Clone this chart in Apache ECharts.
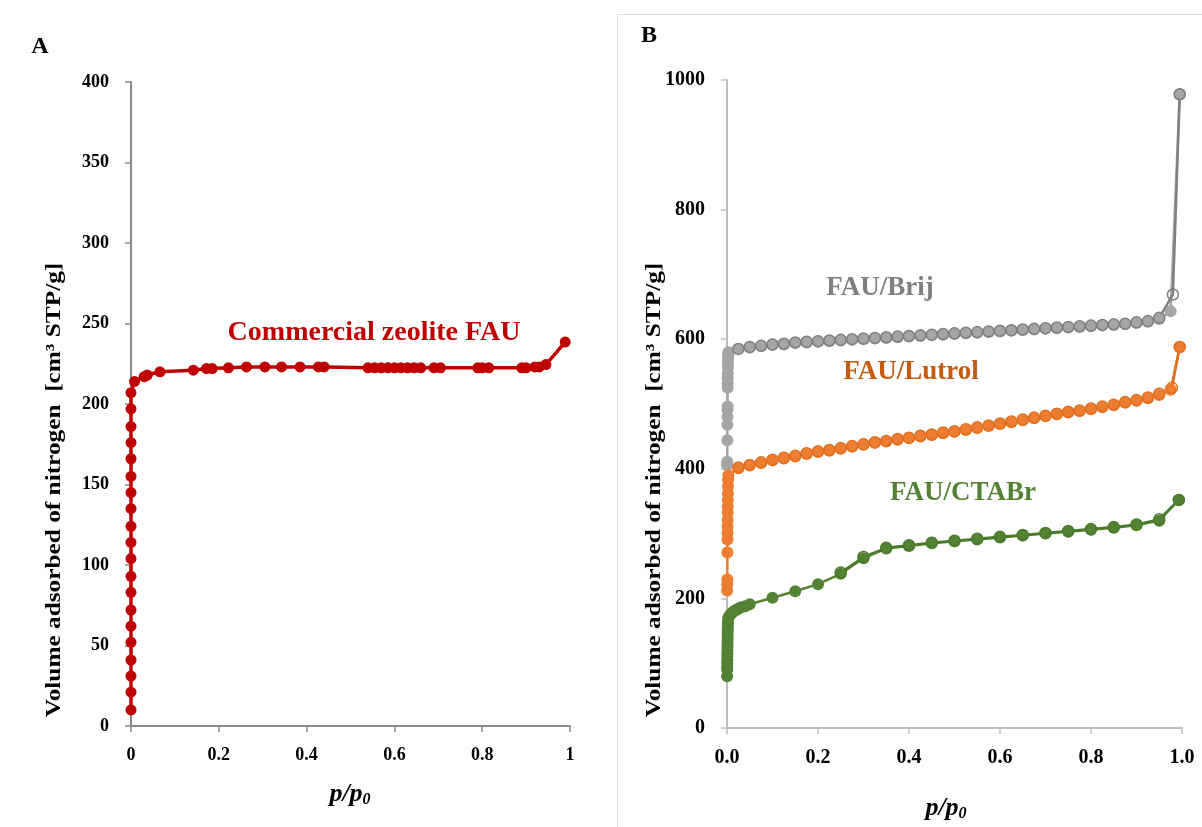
<!DOCTYPE html>
<html>
<head>
<meta charset="utf-8">
<script src="https://cdn.jsdelivr.net/npm/echarts@6/dist/echarts.min.js"></script>
<style>html,body{margin:0;padding:0;background:#fff;}#main{width:1202px;height:827px;}</style>
</head>
<body>
<div id="main"></div>
<script>
// ---------- Panel A: commercial zeolite FAU ----------
const faaP = [0,0,0,0,0,0,0,0,0,0,0,0,0,0,0,0,0,0,0,0,
  0.008,0.03,0.037,0.066,0.142,0.172,0.185,0.222,0.263,0.305,0.343,0.385,0.427,0.44,
  0.54,0.555,0.57,0.585,0.6,0.615,0.63,0.645,0.66,0.69,0.705,0.79,0.8,0.815,
  0.89,0.9,0.92,0.93,0.945,0.989];
const faaV = [10,21,31,41,52,62,72,83,93,104,114,124,135,145,155,166,176,186,197,207,
  214,217,218,220,221,222,222,222.5,223,223,223,223,223,223,
  222.5,222.5,222.5,222.5,222.5,222.5,222.5,222.5,222.5,222.5,222.5,222.5,222.5,222.5,
  222.5,222.5,223,223,224.5,238.5];

// ---------- Panel B ----------
const brijAdsP = [0.0003,0.0005,0.0007,0.0009,0.001,0.0011,0.0012,0.0014,0.0015,0.0016,0.0018,0.002,0.0022,0.0024,0.0026,0.003,
  0.025,0.05,0.075,0.1,0.125,0.15,0.175,0.2,0.225,0.25,0.275,0.3,0.325,0.35,0.375,0.4,0.425,0.45,0.475,0.5,
  0.525,0.55,0.575,0.6,0.625,0.65,0.675,0.7,0.725,0.75,0.775,0.8,0.825,0.85,0.875,0.9,0.925,0.95,0.975,0.995];
const brijAdsV = [406,411,444,468,480,491,496,525,532,540,548,557,565,571,576,580,
  585,587,589,591,592,594,595,596,597,598,599,600,601,602,603,604,605,606,607,608,
  609,610,611,612,613,614,615,616,617,618,619,620,621,622,623,625,627,631,643,978];
const brijDesP = [0.995,0.98,0.95,0.925,0.9,0.875,0.85,0.825,0.8,0.775,0.75,0.725,0.7,0.675,0.65,0.625,0.6,0.575,0.55,0.525,0.5,
  0.475,0.45,0.425,0.4,0.375,0.35,0.325,0.3,0.275,0.25,0.225,0.2,0.175,0.15,0.125,0.1,0.075,0.05,0.025];
const brijDesV = [978,669,633,628,626,624,623,622,621,620,619,618,617,616,615,614,613,612,611,610,609,
  608,607,606,605,604,603,602,601,600,599,598,597,596,595,593,592,590,588,585];

const lutAdsP = [0.0003,0.0005,0.0007,0.0009,0.001,0.0011,0.0012,0.0014,0.0015,0.0016,0.0018,0.002,0.0022,0.0024,0.003,
  0.025,0.05,0.075,0.1,0.125,0.15,0.175,0.2,0.225,0.25,0.275,0.3,0.325,0.35,0.375,0.4,0.425,0.45,0.475,0.5,
  0.525,0.55,0.575,0.6,0.625,0.65,0.675,0.7,0.725,0.75,0.775,0.8,0.825,0.85,0.875,0.9,0.925,0.95,0.975,0.995];
const lutAdsV = [212,222,229,271,291,301,311,321,332,342,352,362,373,383,390,
  401,405,409,413,416,419,423,426,428,431,434,437,440,442,445,447,450,452,455,457,
  460,463,466,469,472,475,478,481,484,487,489,492,495,498,502,505,509,514,522,588];
const lutDesP = [0.995,0.978,0.95,0.925,0.9,0.875,0.85,0.825,0.8,0.775,0.75,0.725,0.7,0.675,0.65,0.625,0.6,0.575,0.55,0.525,0.5,
  0.475,0.45,0.425,0.4,0.375,0.35,0.325,0.3,0.275,0.25,0.225,0.2,0.175,0.15,0.125,0.1,0.075,0.05,0.025];
const lutDesV = [588,525,516,510,506,503,499,496,493,490,488,485,482,479,476,473,470,467,464,461,458,
  456,453,451,448,446,443,441,438,435,432,429,427,424,420,417,414,410,406,402];

const ctaAdsP = [0.0003,0.0004,0.0005,0.0006,0.0007,0.0008,0.0009,0.001,0.0011,0.0012,0.0013,0.0014,0.0015,0.0016,0.0018,0.002,0.0022,
  0.003,0.006,0.01,0.015,0.02,0.025,0.03,0.04,0.05,0.1,0.15,0.2,0.25,0.3,0.35,0.4,0.45,0.5,0.55,0.6,0.65,0.7,0.75,0.8,0.85,0.9,0.95,0.993];
const ctaAdsV = [80,90,95,100,105,110,115,120,126,131,136,141,146,151,156,161,166,
  170,174,177,180,182,184,186,188,191,201,211,222,238,262,277,281,285,288,291,294,297,300,303,306,309,313,320,352];
const ctaDesP = [0.993,0.95,0.9,0.85,0.8,0.75,0.7,0.65,0.6,0.55,0.5,0.45,0.4,0.35,0.3,0.25];
const ctaDesV = [352,322,314,310,307,304,301,298,295,292,289,286,282,278,264,240];

const xTicks = [0,0.2,0.4,0.6,0.8,1];
const labelsB = ['FAU/Brij','FAU/Lutrol','FAU/CTABr'];

const FONT = 'Liberation Serif';
const zip = (p, v) => p.map((x, i) => [x, v[i]]);

function adsSeries(name, p, v, color, xi, size, lw) {
  return {
    name, type:'line', xAxisIndex:xi, yAxisIndex:xi, data:zip(p, v),
    symbol:'circle', symbolSize:size, showAllSymbol:true,
    itemStyle:{color}, lineStyle:{color, width:lw}, emphasis:{disabled:true}
  };
}
function desSeries(name, p, v, color, xi, size, lw) {
  return {
    name, type:'line', xAxisIndex:xi, yAxisIndex:xi, data:zip(p, v),
    symbol:'circle', symbolSize:size, showAllSymbol:true,
    itemStyle:{color:'rgba(255,255,255,0)', borderColor:color, borderWidth:1.5},
    lineStyle:{color, width:lw}, emphasis:{disabled:true}
  };
}

const tickLabel = (size) => ({fontFamily:FONT, fontSize:size, fontWeight:'bold', color:'#000'});
const xTitle = (x, y) => ({type:'text', x, y,
  style:{text:'{i|p}{n|/}{i|p}{s|0}', align:'center', verticalAlign:'middle', fill:'#000',
    rich:{i:{fontFamily:FONT, fontSize:26, fontStyle:'italic', fontWeight:'bold'},
          n:{fontFamily:FONT, fontSize:26, fontStyle:'italic', fontWeight:'bold'},
          s:{fontFamily:FONT, fontSize:16, fontStyle:'italic', fontWeight:'bold', padding:[12,0,0,0]}}}});
const yTitle = (x, y) => ({type:'text', x, y, rotation:Math.PI/2, scaleX:1.15,
  style:{text:'Volume adsorbed of nitrogen  [cm³ STP/g]', fontFamily:FONT, fontSize:22, fontWeight:'bold', fill:'#000', align:'center', verticalAlign:'middle'}});

const chart = echarts.init(document.getElementById('main'), null, {renderer:'canvas'});
const option = {
  animation:false,
  backgroundColor:'#fff',
  grid:[
    {left:131, top:82, width:439, height:644},
    {left:727, top:80, width:455, height:648}
  ],
  xAxis:[
    {gridIndex:0, type:'value', min:0, max:1, interval:0.2,
     axisLine:{show:true, onZero:false, lineStyle:{color:'#898989', width:2}},
     axisTick:{show:true, length:6, lineStyle:{color:'#898989', width:1.5}},
     splitLine:{show:false},
     axisLabel:Object.assign(tickLabel(18), {margin:20, formatter:v => (v===0||v===1) ? String(v) : v.toFixed(1)})},
    {gridIndex:1, type:'value', min:0, max:1, interval:0.2,
     axisLine:{show:true, onZero:false, lineStyle:{color:'#bfbfbf', width:2}},
     axisTick:{show:true, length:6, lineStyle:{color:'#bfbfbf', width:1.5}},
     splitLine:{show:false},
     axisLabel:Object.assign(tickLabel(20), {margin:20, formatter:v => v.toFixed(1)})}
  ],
  yAxis:[
    {gridIndex:0, type:'value', min:0, max:400, interval:50,
     axisLine:{show:true, onZero:false, lineStyle:{color:'#898989', width:2}},
     axisTick:{show:true, length:6, lineStyle:{color:'#898989', width:1.5}},
     splitLine:{show:false},
     axisLabel:Object.assign(tickLabel(18), {margin:22, formatter:v => String(v)})},
    {gridIndex:1, type:'value', min:0, max:1000, interval:200,
     axisLine:{show:true, onZero:false, lineStyle:{color:'#bfbfbf', width:2}},
     axisTick:{show:true, length:6, lineStyle:{color:'#bfbfbf', width:1.5}},
     splitLine:{show:false},
     axisLabel:Object.assign(tickLabel(20), {margin:22, formatter:v => String(v)})}
  ],
  series:[
    adsSeries('Commercial zeolite FAU', faaP, faaV, '#c00000', 0, 11, 3.5),
    adsSeries('FAU/Brij ads', brijAdsP, brijAdsV, '#a5a5a5', 1, 12, 2.5),
    desSeries('FAU/Brij des', brijDesP, brijDesV, '#7f7f7f', 1, 11, 2.5),
    adsSeries('FAU/Lutrol ads', lutAdsP, lutAdsV, '#ed7d31', 1, 12, 2.5),
    desSeries('FAU/Lutrol des', lutDesP, lutDesV, '#e07020', 1, 11, 2.5),
    adsSeries('FAU/CTABr ads', ctaAdsP, ctaAdsV, '#548235', 1, 12, 2.5),
    desSeries('FAU/CTABr des', ctaDesP, ctaDesV, '#4a7a2c', 1, 11, 2.5)
  ],
  graphic:[
    {type:'rect', shape:{x:617.5, y:14.5, width:620, height:840}, style:{fill:'none', stroke:'#d9d9d9', lineWidth:1}, silent:true},
    {type:'text', x:40, y:47, style:{text:'A', fontFamily:FONT, fontSize:24, fontWeight:'bold', fill:'#000', align:'center', verticalAlign:'middle'}},
    {type:'text', x:649, y:36, style:{text:'B', fontFamily:FONT, fontSize:24, fontWeight:'bold', fill:'#000', align:'center', verticalAlign:'middle'}},
    yTitle(54, 490),
    yTitle(654, 490),
    xTitle(350, 794),
    xTitle(946, 808),
    {type:'text', x:374, y:333, style:{text:'Commercial zeolite FAU', fontFamily:FONT, fontSize:28, fontWeight:'bold', fill:'#c00000', align:'center', verticalAlign:'middle'}},
    {type:'text', x:880, y:288, style:{text:labelsB[0], fontFamily:FONT, fontSize:27, fontWeight:'bold', fill:'#808080', align:'center', verticalAlign:'middle'}},
    {type:'text', x:911, y:372, style:{text:labelsB[1], fontFamily:FONT, fontSize:27, fontWeight:'bold', fill:'#c55a11', align:'center', verticalAlign:'middle'}},
    {type:'text', x:963, y:493, style:{text:labelsB[2], fontFamily:FONT, fontSize:27, fontWeight:'bold', fill:'#548235', align:'center', verticalAlign:'middle'}}
  ]
};
chart.setOption(option);
</script>
</body>
</html>
